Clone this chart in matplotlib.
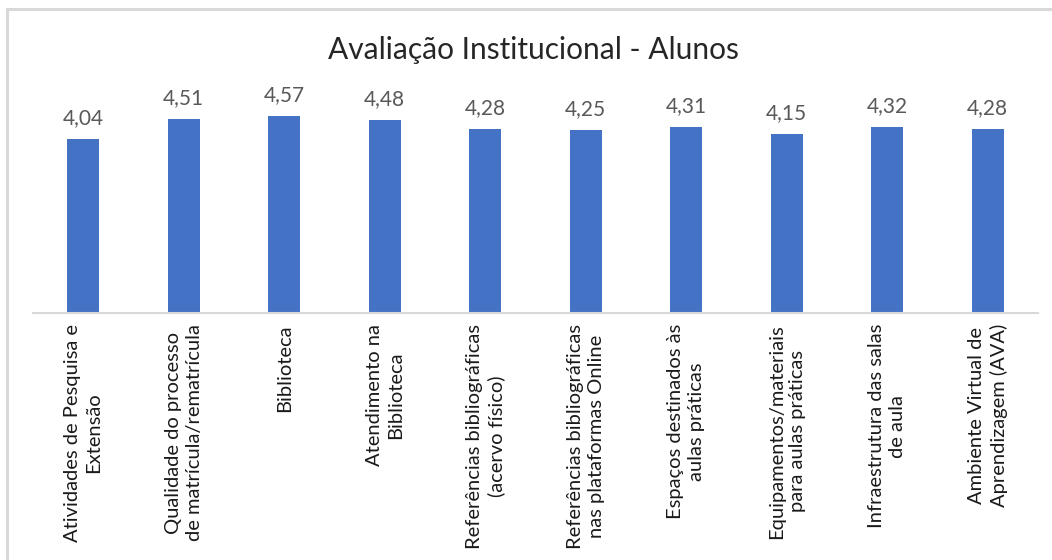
import matplotlib.pyplot as plt
from matplotlib.patches import Rectangle

plt.rcParams['font.family'] = ['Lato', 'DejaVu Sans']

categorias = [
    "Atividades de Pesquisa e\nExtensão",
    "Qualidade do processo\nde matrícula/rematrícula",
    "Biblioteca",
    "Atendimento na\nBiblioteca",
    "Referências bibliográficas\n(acervo físico)",
    "Referências bibliográficas\nnas plataformas Online",
    "Espaços destinados às\naulas práticas",
    "Equipamentos/materiais\npara aulas práticas",
    "Infraestrutura das salas\nde aula",
    "Ambiente Virtual de\nAprendizagem (AVA)",
]
notas = [4.04, 4.51, 4.57, 4.48, 4.28, 4.25, 4.31, 4.15, 4.32, 4.28]

W, H = 1052, 560
fig = plt.figure(figsize=(W / 100, H / 100), dpi=100)

# borda cinza da area do grafico
fig.patches.append(Rectangle((7 / W, -0.1), 1.2, (H - 9) / H + 0.1,
                             transform=fig.transFigure, fill=False,
                             edgecolor='#d9d9d9', linewidth=2.2))

ax = fig.add_axes([33 / W, (H - 313) / H, (1038 - 33) / W, (313 - 97.5) / H])
x = range(len(categorias))
bars = ax.bar(x, notas, width=0.32, color='#4472c4')
ax.set_xlim(-0.5, len(categorias) - 0.5)
ax.set_ylim(0, 5)

for xi, v in zip(x, notas):
    ax.text(xi, v + 0.25, f"{v:.2f}".replace('.', ','), ha='center', va='bottom',
            fontsize=15, color='#595959', clip_on=False)

ax.set_xticks(list(x))
ax.set_xticklabels(categorias, rotation=90, fontsize=14.5, color='#1a1a1a',
                   ha='center', va='top', multialignment='center', linespacing=1.3)
ax.tick_params(axis='x', length=0, pad=8)
ax.set_yticks([])
for s in ['top', 'right', 'left']:
    ax.spines[s].set_visible(False)
ax.spines['bottom'].set_color('#d9d9d9')
ax.spines['bottom'].set_linewidth(1.5)

fig.text(533 / W, 1 - 50 / H, "Avaliação Institucional - Alunos", ha='center',
         va='center', fontsize=21.5, color='#262626')

fig.savefig('out.png', dpi=100)
